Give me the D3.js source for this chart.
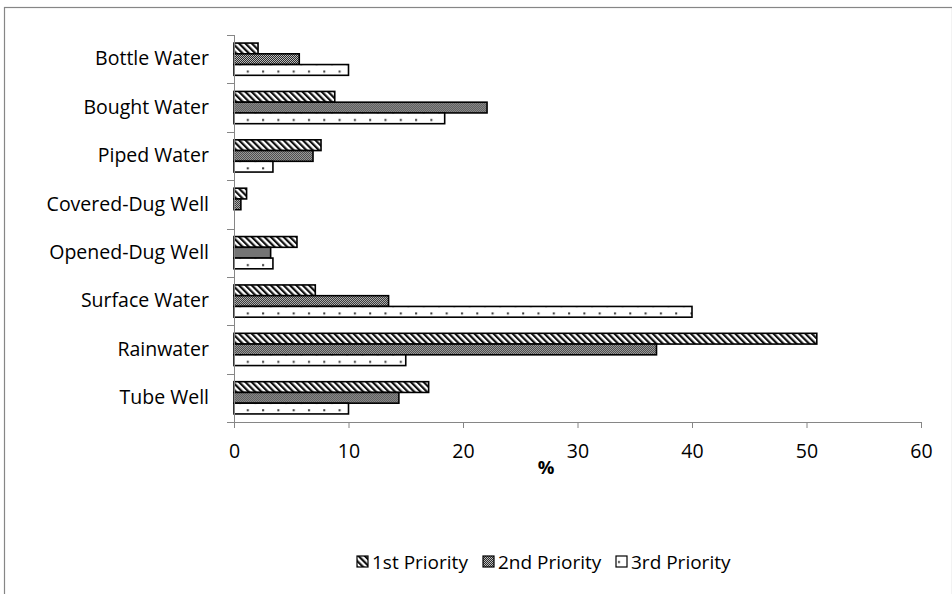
<!DOCTYPE html>
<html>
<head>
<meta charset="utf-8">
<script src="https://cdn.jsdelivr.net/npm/d3@7"></script>
<style>
  html, body { margin: 0; padding: 0; background: #fff; }
  svg { display: block; }
  text { font-family: "Open Sans", "Noto Sans", sans-serif; fill: #000; }
</style>
</head>
<body>
<svg id="chart" width="952" height="594"></svg>
<script>
// Water sources, listed top to bottom
const categories = [
  "Bottle Water", "Bought Water", "Piped Water", "Covered-Dug Well",
  "Opened-Dug Well", "Surface Water", "Rainwater", "Tube Well"
];
const seriesNames = ["1st Priority", "2nd Priority", "3rd Priority"];
// Share of respondents (%) per source, one array per priority
const firstPriority  = [2.1, 8.8, 7.6, 1.1, 5.5, 7.1, 50.9, 17.0];
const secondPriority = [5.7, 22.1, 6.9, 0.6, 3.2, 13.5, 36.9, 14.4];
const thirdPriority  = [10.0, 18.4, 3.4, 0.0, 3.4, 40.0, 15.0, 10.0];
const xTicks = [0, 10, 20, 30, 40, 50, 60];
const xTitle = "%";

const series = [firstPriority, secondPriority, thirdPriority];
const svg = d3.select("#chart");
const axisColor = "#868686";
const fontSize = 19.5;

// Outer chart frame
svg.append("rect")
  .attr("x", 4.5).attr("y", 7.5)
  .attr("width", 948).attr("height", 700)
  .attr("fill", "none").attr("stroke", axisColor).attr("stroke-width", 1.2);

// Fill patterns
const defs = svg.append("defs");
const hatch = defs.append("pattern")
  .attr("id", "fill-0").attr("patternUnits", "userSpaceOnUse")
  .attr("width", 4.5).attr("height", 4.5)
  .attr("patternTransform", "rotate(-45)");
hatch.append("rect").attr("width", 4.5).attr("height", 4.5).attr("fill", "#fff");
hatch.append("rect").attr("width", 2.2).attr("height", 4.5).attr("fill", "#111");

const checker = defs.append("pattern")
  .attr("id", "fill-1").attr("patternUnits", "userSpaceOnUse")
  .attr("width", 2).attr("height", 2);
checker.append("rect").attr("width", 2).attr("height", 2).attr("fill", "#bdbdbd");
checker.append("rect").attr("width", 1).attr("height", 1).attr("fill", "#2a2a2a");
checker.append("rect").attr("x", 1).attr("y", 1).attr("width", 1).attr("height", 1).attr("fill", "#2a2a2a");

const dots = defs.append("pattern")
  .attr("id", "fill-2").attr("patternUnits", "userSpaceOnUse")
  .attr("width", 15.3).attr("height", 15.3);
dots.append("rect").attr("width", 15.3).attr("height", 15.3).attr("fill", "#fff");
dots.append("rect").attr("x", 2).attr("y", 5).attr("width", 2).attr("height", 2).attr("fill", "#333");
dots.append("rect").attr("x", 9.65).attr("y", 12.65).attr("width", 2).attr("height", 2).attr("fill", "#333");

// Scales
const x = d3.scaleLinear().domain([0, 60]).range([234, 921]);
const y = d3.scaleBand().domain(categories).range([35, 422]).padding(0);
const bw = y.bandwidth() / 4.5;
const ySub = d3.scaleBand().domain(d3.range(series.length))
  .range([0.75 * bw, y.bandwidth() - 0.75 * bw]).padding(0);

// Bars
const groups = svg.append("g").selectAll("g")
  .data(categories).join("g")
  .attr("transform", d => `translate(0,${y(d)})`);
groups.selectAll("rect")
  .data((c, i) => series.map((s, k) => ({ k, v: s[i] })))
  .join("rect")
  .attr("x", x(0))
  .attr("y", d => ySub(d.k))
  .attr("width", d => x(d.v) - x(0))
  .attr("height", ySub.bandwidth())
  .attr("fill", d => `url(#fill-${d.k})`)
  .attr("stroke", "#000")
  .attr("stroke-width", d => d.v > 0 ? 1.6 : 0);

// X axis
const xAxis = svg.append("g")
  .attr("transform", `translate(0,${422})`)
  .call(d3.axisBottom(x).tickValues(xTicks).tickSize(6).tickPadding(16).tickSizeOuter(0));
xAxis.select(".domain").attr("stroke", axisColor).attr("d", `M${x(0) - 7},0.5H${x(60)}`);
xAxis.selectAll(".tick line").attr("stroke", axisColor);
xAxis.selectAll(".tick text").attr("font-size", fontSize).attr("font-family", "Open Sans");

// Y axis: line plus ticks at category boundaries
const yAxis = svg.append("g");
yAxis.append("line")
  .attr("x1", x(0) + 0.5).attr("x2", x(0) + 0.5)
  .attr("y1", y.range()[0]).attr("y2", y.range()[1])
  .attr("stroke", axisColor);
const bounds = categories.map(c => y(c)).concat([y.range()[1]]);
yAxis.selectAll(".btick").data(bounds).join("line")
  .attr("x1", x(0) - 7).attr("x2", x(0))
  .attr("y1", d => Math.round(d) + 0.5).attr("y2", d => Math.round(d) + 0.5)
  .attr("stroke", axisColor);
const yLabels = svg.append("g")
  .attr("transform", `translate(${x(0)},0)`)
  .call(d3.axisLeft(y).tickSize(0).tickPadding(25));
yLabels.select(".domain").remove();
yLabels.selectAll(".tick text").attr("font-size", fontSize).attr("font-family", "Open Sans");

// Axis title
svg.append("text")
  .attr("x", 546).attr("y", 474)
  .attr("text-anchor", "middle")
  .attr("font-size", fontSize - 1).attr("font-weight", "bold")
  .text(xTitle);

// Legend
const legendX = [357, 483, 616];
const legend = svg.append("g").selectAll("g")
  .data(seriesNames).join("g")
  .attr("transform", (d, i) => `translate(${legendX[i]},556)`);
legend.append("rect")
  .attr("width", 11).attr("height", 11)
  .attr("fill", (d, i) => `url(#fill-${i})`)
  .attr("stroke", "#000").attr("stroke-width", 1.2);
legend.append("text")
  .attr("x", 15).attr("y", 12.5)
  .attr("font-size", fontSize - 0.5)
  .text(d => d);
</script>
</body>
</html>
